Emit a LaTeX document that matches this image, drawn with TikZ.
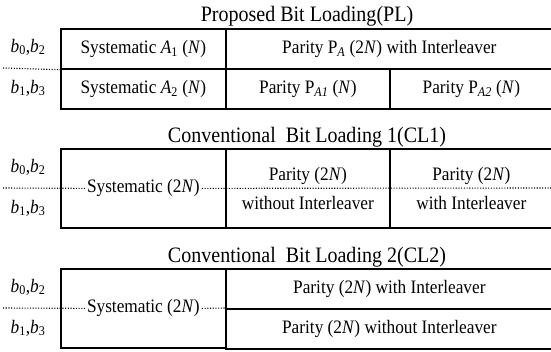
\documentclass[tikz,border=0pt]{standalone}
\usepackage{fontspec}
\setmainfont{Liberation Serif}[FakeStretch=0.91]
\usetikzlibrary{positioning}

\tikzset{
  cell/.style={draw, line width=1.7pt, minimum height=40pt, inner sep=0pt, anchor=north west},
  bigcell/.style={cell, minimum height=79pt},
  dotline/.style={line width=1.1pt, dash pattern=on 1.1pt off 1.6pt},
  hdr/.style={inner sep=0pt, anchor=base, font=\fontsize{22}{24}\selectfont},
  blab/.style={inner sep=0pt, font=\fontsize{19}{22}\selectfont}
}
\newcommand{\bb}[2]{\textit{b}\textsubscript{#1},\textit{b}\textsubscript{#2}}
\newcommand{\Nn}{(\textit{N})}
\newcommand{\Nt}{(2\textit{N})}

\begin{document}
\begin{tikzpicture}[x=1pt, y=-1pt, font=\fontsize{19}{22}\selectfont]
    \useasboundingbox (0,0) rectangle (551,351);

    % Proposed bit loading
    \node[hdr] (pltitle) at (307,21) {Proposed Bit Loading(PL)};
    \node[cell, minimum width=165pt] (plsysa) at (60,28) {Systematic \textit{A}\textsubscript{1} \Nn};
    \node[cell, minimum width=327pt] (plpar) at (225,28) {Parity P\textsubscript{\textit{A}} \Nt{} with Interleaver};
    \node[cell, minimum width=165pt] (plsysb) at (60,68) {Systematic \textit{A}\textsubscript{2} \Nn};
    \node[cell, minimum width=164pt] (plpa) at (225,68) {Parity P\textsubscript{\textit{A1}} \Nn};
    \node[cell, minimum width=163pt] (plpb) at (389,68) {Parity P\textsubscript{\textit{A2}} \Nn};
    \node[blab] (pla) at (28,47) {\bb{0}{2}};
    \node[blab] (plb) at (28,88) {\bb{1}{3}};
    \coordinate (plcut) at (3,68);
    \draw[dotline] (plcut) -- (plsysa.south west);

    % Conventional bit loading 1
    \node[hdr] (catitle) at (307,142) {Conventional\ \ Bit Loading 1(CL1)};
    \node[bigcell, minimum width=165pt] (casys) at (60,148) {};
    \node[bigcell, minimum width=164pt, align=center] (capa) at (225,148) {Parity \Nt\\[7pt]without Interleaver};
    \node[bigcell, minimum width=163pt, align=center] (capb) at (389,148) {Parity \Nt\\[7pt]with Interleaver};
    \node[blab] (caa) at (28,167) {\bb{0}{2}};
    \node[blab] (cab) at (28,208) {\bb{1}{3}};
    \node[inner sep=2pt] (catext) at (casys.center) {Systematic \Nt};
    \coordinate (cacut) at (3,188);
    \coordinate (caend) at (552,188);
    \draw[dotline] (cacut) -- (catext.west);
    \draw[dotline] (catext.east) -- (caend);

    % Conventional bit loading 2
    \node[hdr] (cbtitle) at (307,262) {Conventional\ \ Bit Loading 2(CL2)};
    \node[bigcell, minimum width=165pt] (cbsys) at (60,268) {};
    \node[cell, minimum width=327pt] (cbpa) at (225,268) {Parity \Nt{} with Interleaver};
    \node[cell, minimum width=327pt] (cbpb) at (225,308) {Parity \Nt{} without Interleaver};
    \node[blab] (cba) at (28,287) {\bb{0}{2}};
    \node[blab] (cbb) at (28,328) {\bb{1}{3}};
    \node[inner sep=2pt] (cbtext) at (cbsys.center) {Systematic \Nt};
    \coordinate (cbcut) at (3,308);
    \draw[dotline] (cbcut) -- (cbtext.west);
    \draw[dotline] (cbtext.east) -- (cbpb.north west);
\end{tikzpicture}
\end{document}
